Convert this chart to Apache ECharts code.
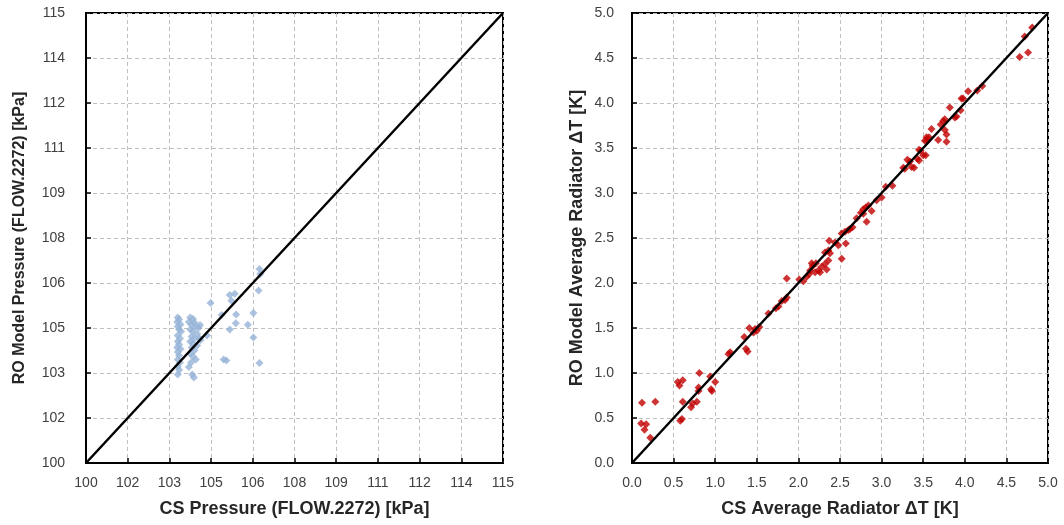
<!DOCTYPE html>
<html>
<head>
<meta charset="utf-8">
<script src="https://cdn.jsdelivr.net/npm/echarts@6/dist/echarts.min.js"></script>
<style>
  html, body { margin: 0; padding: 0; background: #fff; }
  #chart { width: 1064px; height: 525px; }
</style>
</head>
<body>
<div id="chart"></div>
<script>
// Pressure comparison: [CS value, RO model value] in kPa
const pressurePoints = [
  [103.30,104.85],[103.35,104.78],[103.28,104.70],[103.40,104.62],[103.30,104.55],
  [103.35,104.45],[103.42,104.38],[103.30,104.25],[103.38,104.15],[103.30,104.05],
  [103.35,103.95],[103.28,103.85],[103.40,103.80],[103.30,103.70],[103.35,103.58],
  [103.30,103.45],[103.38,103.35],[103.30,103.22],[103.35,103.10],[103.30,102.95],
  [103.75,104.85],[103.85,104.80],[103.70,104.70],[103.90,104.68],[103.80,104.60],
  [103.95,104.55],[104.05,104.50],[103.75,104.45],[103.85,104.38],[104.00,104.30],
  [103.80,104.22],[103.90,104.15],[103.75,104.05],[103.85,103.98],[104.00,103.92],
  [103.80,103.85],[103.90,103.75],[103.75,103.65],[103.85,103.55],[103.95,103.45],
  [103.78,103.35],[103.70,103.20],[103.82,102.95],[103.88,102.85],
  [104.08,104.15],[104.12,104.10],[104.10,104.60],[104.35,104.25],[104.48,105.33],
  [104.88,104.93],[105.17,104.45],[105.17,105.60],[105.35,105.64],[105.23,105.41],
  [105.40,104.95],[105.39,104.66],[105.82,104.61],[106.02,105.00],[106.02,104.18],
  [104.95,103.45],[105.05,103.42],[106.24,103.33],
  [106.24,106.47],[106.27,106.30],[106.21,105.75]
];

// Radiator temperature difference: [CS value, RO model value] in K
const deltaTPoints = [
  [0.12,0.67],[0.28,0.68],[0.11,0.44],[0.17,0.43],[0.15,0.37],[0.22,0.28],
  [0.55,0.90],[0.57,0.86],[0.61,0.92],[0.81,1.00],[0.94,0.96],[1.00,0.90],
  [0.80,0.84],[0.80,0.80],[0.95,0.82],[0.96,0.80],[0.61,0.68],[0.71,0.62],
  [0.78,0.68],[0.73,0.66],[0.58,0.47],[0.60,0.49],
  [1.16,1.21],[1.18,1.23],[1.35,1.40],[1.37,1.27],[1.39,1.24],[1.41,1.50],
  [1.46,1.45],[1.48,1.49],[1.50,1.47],[1.53,1.51],
  [1.64,1.66],[1.73,1.72],[1.76,1.74],[1.80,1.80],[1.84,1.81],[1.86,1.84],
  [1.86,2.05],[2.01,2.04],[2.06,2.02],[2.10,2.07],[2.13,2.10],[2.14,2.14],
  [2.17,2.19],[2.16,2.22],[2.21,2.22],[2.20,2.12],[2.24,2.14],[2.28,2.18],
  [2.32,2.21],[2.36,2.25],[2.34,2.15],[2.52,2.27],[2.32,2.34],[2.36,2.36],
  [2.38,2.33],[2.37,2.47],[2.44,2.45],[2.48,2.42],[2.57,2.44],[2.52,2.55],
  [2.56,2.57],[2.60,2.59],[2.62,2.60],[2.82,2.68],[2.26,2.12],
  [2.65,2.62],[2.70,2.72],[2.75,2.78],
  [2.78,2.82],[2.81,2.84],[2.84,2.86],[2.88,2.80],[2.78,2.77],[2.94,2.92],
  [3.00,2.95],[3.05,3.07],[3.13,3.08],[3.28,3.27],[3.34,3.35],[3.39,3.28],
  [3.45,3.36],[3.47,3.47],[3.53,3.42],[3.55,3.58],[3.57,3.62],
  [3.26,3.28],[3.31,3.37],[3.36,3.29],[3.43,3.38],[3.50,3.42],[3.45,3.48],
  [3.52,3.58],[3.54,3.62],[3.60,3.71],[3.68,3.59],[3.71,3.76],[3.74,3.80],
  [3.76,3.82],[3.76,3.70],[3.78,3.65],[3.78,3.57],[3.82,3.95],[3.88,3.84],
  [3.90,3.85],[3.95,3.92],[3.96,4.05],[3.98,4.05],[4.04,4.13],[4.15,4.14],
  [4.21,4.19],[4.66,4.51],[4.72,4.74],[4.76,4.56],[4.81,4.84]
];

// Axis ranges and tick steps
const pressureRange = [100, 115];
const pressureStep = 1.5;
const deltaTRange = [0, 5];
const deltaTStep = 0.5;

const FONT = 'Liberation Sans, Arial, sans-serif';
const gridLine = { show: true, lineStyle: { color: '#BFBFBF', type: [4, 3], width: 1 } };

function valueAxis(gridIndex, range, step, name, fmt, nameGap, labelMargin, nameSize) {
  return {
    type: 'value', gridIndex, min: range[0], max: range[1], interval: step,
    name, nameLocation: 'middle', nameGap,
    nameTextStyle: { fontFamily: FONT, fontSize: nameSize, fontWeight: 'bold', color: '#262626' },
    axisLine: { show: true, onZero: false, lineStyle: { color: '#000', width: 2 } },
    axisTick: { show: true, inside: true, length: 5, lineStyle: { color: '#000', width: 1.5 } },
    axisLabel: { fontFamily: FONT, fontSize: 14, color: '#404040', margin: labelMargin, formatter: fmt },
    splitLine: gridLine
  };
}

const roundFmt = v => String(Math.round(v));
const oneDec = v => v.toFixed(1);

const chart = echarts.init(document.getElementById('chart'), null, { renderer: 'canvas' });
chart.setOption({
  animation: false,
  backgroundColor: '#fff',
  grid: [
    { left: 86, top: 13, width: 417, height: 450, show: true, borderColor: '#000', borderWidth: 2, backgroundColor: 'transparent' },
    { left: 632, top: 13, width: 416, height: 450, show: true, borderColor: '#000', borderWidth: 2, backgroundColor: 'transparent' }
  ],
  xAxis: [
    valueAxis(0, pressureRange, pressureStep, 'CS Pressure (FLOW.2272) [kPa]', roundFmt, 37, 13, 18),
    valueAxis(1, deltaTRange, deltaTStep, 'CS Average Radiator ΔT [K]', oneDec, 37, 13, 18)
  ],
  yAxis: [
    valueAxis(0, pressureRange, pressureStep, 'RO Model Pressure (FLOW.2272) [kPa]', roundFmt, 58, 21, 16),
    valueAxis(1, deltaTRange, deltaTStep, 'RO Model Average Radiator ΔT [K]', oneDec, 46, 18, 18)
  ],
  series: [
    {
      type: 'scatter', xAxisIndex: 0, yAxisIndex: 0, data: pressurePoints,
      symbol: 'diamond', symbolSize: 8, itemStyle: { color: '#95B3D7' }, z: 2
    },
    {
      type: 'line', xAxisIndex: 0, yAxisIndex: 0,
      data: [[pressureRange[0], pressureRange[0]], [pressureRange[1], pressureRange[1]]],
      symbol: 'none', lineStyle: { color: '#000', width: 2.5 }, z: 3
    },
    {
      type: 'scatter', xAxisIndex: 1, yAxisIndex: 1, data: deltaTPoints,
      symbol: 'diamond', symbolSize: 8, itemStyle: { color: '#C00000' }, z: 2
    },
    {
      type: 'line', xAxisIndex: 1, yAxisIndex: 1,
      data: [[deltaTRange[0], deltaTRange[0]], [deltaTRange[1], deltaTRange[1]]],
      symbol: 'none', lineStyle: { color: '#000', width: 2.5 }, z: 3
    }
  ]
});
</script>
</body>
</html>
